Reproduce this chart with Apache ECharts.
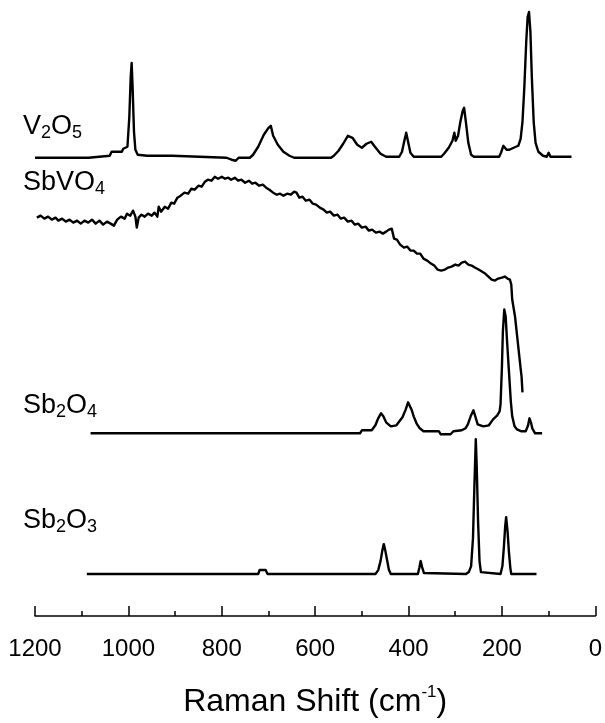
<!DOCTYPE html>
<html>
<head>
<meta charset="utf-8">
<script src="https://cdn.jsdelivr.net/npm/echarts@6/dist/echarts.min.js"></script>
<style>
html,body{margin:0;padding:0;background:#fff;}
#c{width:605px;height:723px;}
</style>
</head>
<body>
<div id="c"></div>
<script>
// Raman shift (cm-1) vs intensity (arbitrary units, stacked with offsets)
var xTicks = [0, 200, 400, 600, 800, 1000, 1200];

var v2o5 = [
[1200,459],[1085,459],[1081,461],[1040,461],[1036,465],[1014,465],[1011,468],[1002,470],[998,500],[995,540],[993,554],[991,530],[988,485],[985,467],[980,462],[960,461],[906,461],[903,459],[790,459],[779,457],[770,456],[764,459],[740,459],[733,462],[722,470],[710,482],[700,489],[695,491],[690,481],[680,472],[668,465],[655,461],[645,459],[566,459],[560,461],[550,466],[540,473],[530,481],[526,483],[520,479],[510,472],[500,469],[490,473],[480,475],[472,470],[460,463],[448,460],[420,460],[414,465],[409,476],[405,484],[401,475],[396,464],[389,460],[330,460],[324,463],[314,469],[306,476],[302,484],[299,476],[294,481],[289,495],[284,506],[281,509],[277,494],[272,474],[266,462],[260,460],[206,460],[202,464],[197,471],[194,472],[190,467],[184,467],[175,469],[165,471],[160,478],[156,495],[152,530],[148,575],[145,600],[142,605],[139,585],[136,540],[132,495],[128,474],[122,465],[112,461],[104,460],[100,464],[96,460],[51,460]
];

var sbvo4 = [
[1196,399],[1188,401],[1180,398],[1172,400],[1164,397],[1156,399],[1150,396],[1142,398],[1134,395],[1126,397],[1118,394],[1110,396],[1102,393],[1094,396],[1086,394],[1078,397],[1070,393],[1062,396],[1054,392],[1046,395],[1038,393],[1031,391],[1024,397],[1016,400],[1008,398],[1003,403],[996,401],[990,406],[985,400],[982,389],[978,399],[972,402],[965,400],[958,403],[950,401],[944,404],[938,400],[935,410],[930,405],[922,410],[915,408],[908,414],[902,413],[895,419],[888,421],[880,424],[872,423],[865,428],[858,427],[850,431],[843,430],[836,435],[830,437],[822,436],[815,440],[808,438],[800,440],[793,438],[786,439],[780,437],[772,439],[765,436],[758,437],[750,434],[742,436],[735,433],[728,434],[720,431],[712,432],[705,429],[698,427],[690,424],[682,422],[675,423],[668,421],[660,423],[652,422],[645,425],[640,424],[634,419],[627,420],[620,416],[612,417],[605,413],[598,412],[590,409],[582,407],[575,404],[568,405],[560,401],[552,402],[545,398],[538,399],[530,395],[522,396],[515,392],[508,393],[500,389],[492,390],[485,386],[478,387],[470,384],[462,385],[455,383],[448,385],[442,387],[436,388],[431,378],[425,377],[418,372],[410,369],[403,370],[396,366],[389,366],[382,363],[375,363],[368,358],[360,356],[352,353],[345,351],[338,347],[330,346],[322,347],[315,349],[308,350],[300,352],[293,351],[286,354],[279,355],[272,352],[265,351],[258,349],[250,347],[243,345],[236,343],[229,340],[222,337],[215,336],[208,338],[200,339],[194,340],[188,338],[183,337],[180,332],[178,317],[172,300],[166,274],[160,248],[158,240],[156,224]
];

var sb2o4 = [
[1081,183],[504,183],[500,186],[479,186],[471,191],[465,198],[459,203],[454,200],[448,194],[438,190],[426,191],[418,196],[413,199],[406,207],[401,214],[397,214],[393,206],[389,200],[383,193],[376,188],[368,185],[335,185],[331,182],[310,182],[304,185],[286,186],[278,188],[273,192],[267,200],[261,206],[257,200],[252,192],[240,190],[228,191],[219,197],[210,201],[205,205],[203,212],[200,250],[198,285],[195,307],[192,300],[189,275],[185,245],[181,215],[178,200],[173,190],[168,187],[158,185],[149,185],[144,191],[141,198],[138,194],[135,188],[129,183],[114,183]
];

var sb2o3 = [
[1089,42],[722,42],[719,46],[706,46],[702,42],[471,42],[465,46],[460,55],[456,66],[453,72],[450,66],[446,56],[442,46],[438,42],[380,42],[377,48],[374,55],[371,49],[367,43],[365,42],[277,42],[271,44],[266,50],[262,78],[259,130],[256,177],[254,150],[251,93],[248,55],[245,44],[243,42],[203,42],[199,50],[196,68],[193,90],[191,99],[188,85],[185,64],[182,48],[180,42],[126,42]
];

var labelFont = 'Liberation Sans, Arial, Helvetica, sans-serif';

var chart = echarts.init(document.getElementById('c'), null, {renderer:'canvas'});

function mkSeries(d){
  return {type:'line', data:d, symbol:'none', smooth:false,
    lineStyle:{color:'#000', width:2.4, join:'round'}, silent:true, animation:false};
}

function lbl(parts, left, top){
  return {type:'text', left:left, top:top, silent:true,
    style:{text:parts, fill:'#000', font:'27px ' + labelFont,
      rich:{
        m:{fontSize:27, fontFamily:labelFont, fill:'#000', lineHeight:32},
        s:{fontSize:18, fontFamily:labelFont, fill:'#000', lineHeight:12, verticalAlign:'bottom'}
      }}};
}

chart.setOption({
  animation:false,
  backgroundColor:'#fff',
  grid:{left:35, right:8, top:0, bottom:106, containLabel:false},
  xAxis:{
    type:'value', min:0, max:1200, inverse:true, interval:200,
    axisLine:{show:true, onZero:false, lineStyle:{color:'#000', width:1.5}},
    axisTick:{show:true, inside:true, length:10, lineStyle:{color:'#000', width:1.5}},
    minorTick:{show:true, splitNumber:2, length:5, lineStyle:{color:'#000', width:1.5}},
    splitLine:{show:false},
    minorSplitLine:{show:false},
    axisLabel:{color:'#000', fontSize:24, fontFamily:labelFont, margin:21,
      formatter:function(v){ return xTicks.indexOf(v) >= 0 ? String(v) : ''; }},
    name:'{a|Raman Shift (cm}{b|-1}{a|)}',
    nameLocation:'middle', nameGap:68,
    nameTextStyle:{
      rich:{
        a:{fontSize:32, fontFamily:labelFont, color:'#000', lineHeight:36},
        b:{fontSize:17, fontFamily:labelFont, color:'#000', lineHeight:14, verticalAlign:'top'}
      }
    }
  },
  yAxis:{type:'value', min:0, max:617, show:false, splitLine:{show:false}},
  series:[mkSeries(v2o5), mkSeries(sbvo4), mkSeries(sb2o4), mkSeries(sb2o3)],
  graphic:[
    lbl('{m|V}{s|2}{m|O}{s|5}', 23, 113),
    lbl('{m|SbVO}{s|4}', 23, 169),
    lbl('{m|Sb}{s|2}{m|O}{s|4}', 23, 392),
    lbl('{m|Sb}{s|2}{m|O}{s|3}', 23, 507)
  ]
});
</script>
</body>
</html>
